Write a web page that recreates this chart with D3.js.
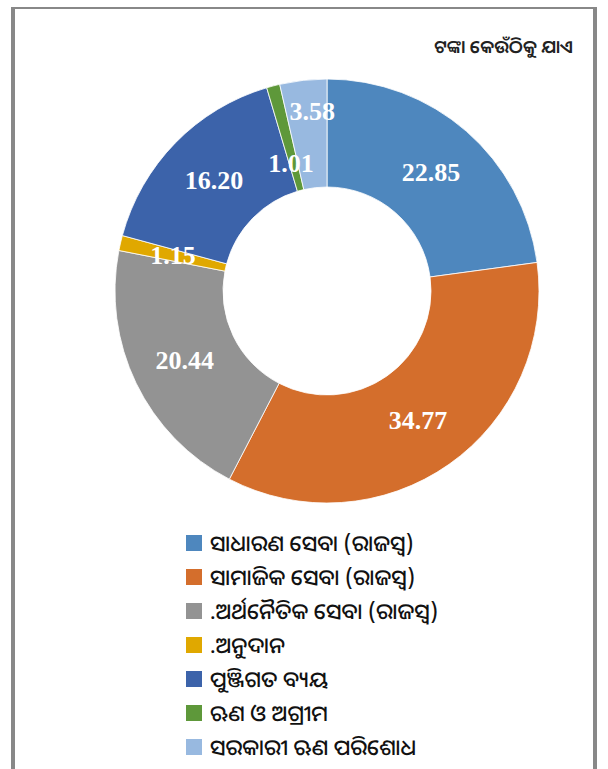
<!DOCTYPE html>
<html>
<head>
<meta charset="utf-8">
<script src="https://cdn.jsdelivr.net/npm/d3@7"></script>
<style>
  body { margin: 0; background: #fff; }
  svg { display: block; }
</style>
</head>
<body>
<svg id="chart" width="608" height="769"></svg>
<script>
// chart data
var categories = [
  'ସାଧାରଣ ସେବା (ରାଜସ୍ୱ)',
  'ସାମାଜିକ ସେବା (ରାଜସ୍ୱ)',
  '.ଅର୍ଥନୈତିକ ସେବା (ରାଜସ୍ୱ)',
  '.ଅନୁଦାନ',
  'ପୁଞ୍ଜିଗତ ବ୍ୟୟ',
  'ଋଣ ଓ ଅଗ୍ରୀମ',
  'ସରକାରୀ ଋଣ ପରିଶୋଧ'
];
var values = [22.85, 34.77, 20.44, 1.15, 16.20, 1.01, 3.58];
var colors = ['#4e87be', '#d46e2c', '#939393', '#e0a800', '#3c63aa', '#5e983a', '#98b9e0'];
var unitLabel = 'ଟଙ୍କା କେଉଁଠିକୁ ଯାଏ';
// manual nudges of data labels (px), like moved labels in the source
var labelNudge = [[0, 0], [0, 0], [0, 0], [0, 0], [0, 0], [4, 25], [3, -23]];

var odiaFont = '"Noto Sans Oriya", "Noto Sans Odia", "Lohit Odia", "Noto Sans", sans-serif';

var svg = d3.select('#chart');

// outer frame
var frame = svg.append('g').attr('class', 'frame');
frame.append('line').attr('x1', 11).attr('y1', 8).attr('x2', 597).attr('y2', 8)
  .style('stroke', '#888').style('stroke-width', 2);
frame.append('line').attr('x1', 13).attr('y1', 7).attr('x2', 13).attr('y2', 769)
  .style('stroke', '#888').style('stroke-width', 4);
frame.append('line').attr('x1', 595).attr('y1', 7).attr('x2', 595).attr('y2', 769)
  .style('stroke', '#888').style('stroke-width', 4);

// unit label, top right
svg.append('text')
  .attr('x', 573).attr('y', 53)
  .attr('text-anchor', 'end')
  .style('font-family', odiaFont)
  .style('font-size', '18px')
  .style('font-weight', 600)
  .style('fill', '#222')
  .text(unitLabel);

var cx = 327, cy = 291, rOuter = 212, rInner = 104;

var pie = d3.pie().sort(null).value(function(d){ return d; });
var arcs = pie(values);
var arc = d3.arc().innerRadius(rInner).outerRadius(rOuter);

var g = svg.append('g').attr('transform', 'translate(' + cx + ',' + cy + ')');

g.selectAll('path.slice')
  .data(arcs)
  .enter().append('path')
  .attr('class', 'slice')
  .attr('d', arc)
  .style('fill', function(d, i){ return colors[i]; })
  .style('stroke', '#fff')
  .style('stroke-width', 0.8);

g.selectAll('text.val')
  .data(arcs)
  .enter().append('text')
  .attr('class', 'val')
  .attr('transform', function(d, i){
    var c = arc.centroid(d);
    return 'translate(' + (c[0] + labelNudge[i][0]) + ',' + (c[1] + labelNudge[i][1]) + ')';
  })
  .attr('text-anchor', 'middle')
  .attr('dy', '0.34em')
  .style('font-family', '"Liberation Serif", "Times New Roman", serif')
  .style('font-size', '26px')
  .style('font-weight', 'bold')
  .style('fill', '#fff')
  .text(function(d){ return d.data.toFixed(2); });

// legend
var legend = svg.append('g').attr('class', 'legend');
var rowH = 34, lx = 186, ly = 543;
categories.forEach(function(c, i){
  var y = ly + i * rowH;
  legend.append('rect')
    .attr('x', lx).attr('y', y - 8)
    .attr('width', 16).attr('height', 16)
    .style('fill', colors[i]);
  legend.append('text')
    .attr('x', lx + 24).attr('y', y)
    .attr('dy', '0.35em')
    .style('font-family', odiaFont)
    .style('font-size', '22px')
    .style('font-weight', 500)
    .style('fill', '#111')
    .text(c);
});
</script>
</body>
</html>
